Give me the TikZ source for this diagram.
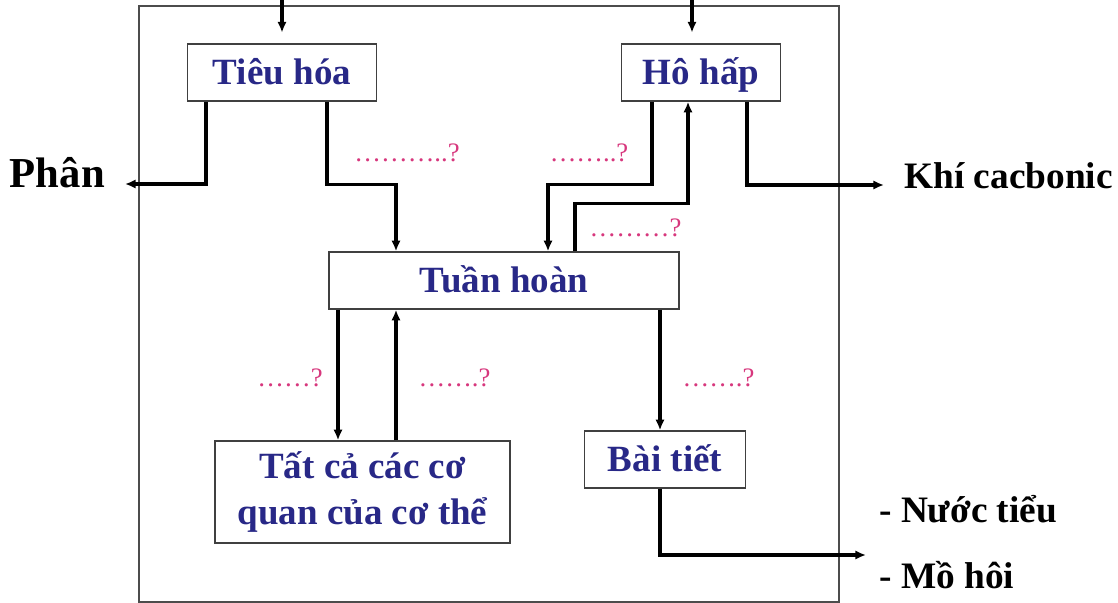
\documentclass[tikz,border=0pt]{standalone}
\usepackage{fontspec}
\setmainfont{Liberation Serif}
\usepackage{tikz}
\usetikzlibrary{arrows.meta, calc, positioning}
\definecolor{organblue}{RGB}{40,40,135}
\definecolor{askpink}{RGB}{215,55,125}

\begin{document}
\begin{tikzpicture}[x=0.75pt,y=-0.75pt,
            >={Latex[length=8pt,width=7pt]},
      flow/.style={->,line width=2.4pt,black},
      organ/.style={draw=black!75,line width=1.1pt,fill=white,text=organblue,
         font=\fontsize{27.75}{34}\selectfont\bfseries,inner sep=0pt},
      oneline/.style={text height=18.3pt,text depth=0pt},
      outside/.style={font=\fontsize{28}{34}\selectfont\bfseries,inner xsep=15pt,inner ysep=0pt},
      ask/.style={text=askpink,font=\fontsize{20}{24}\selectfont,anchor=base}]
            \useasboundingbox (0,0) rectangle (1118,603);

             % khung ngoai
             \draw [draw=black!70, line width=0.8pt] (139,6) rectangle (839,602);

             \node [organ, oneline, minimum width=141.4pt, minimum height=42.75pt] at (282,72.5) (tieuhoa) {Tiêu hóa};
             \node [organ, oneline, minimum width=119.6pt, minimum height=42.75pt] at (701,72.5) (hohap) {Hô hấp};
             \node [organ, oneline, minimum width=262.5pt, minimum height=42.75pt] at (504,280.5) (tuanhoan) {Tuần hoàn};
             \node [organ, minimum width=221.25pt, minimum height=76.5pt, align=center]
                    at (362.5,492) (coquan) {Tất cả các cơ\\quan của cơ thể};
             \node [organ, oneline, minimum width=121.1pt, minimum height=42.75pt] at (665,459.5) (baitiet) {Bài tiết};

             \node [outside, font=\fontsize{32}{38}\selectfont\bfseries, anchor=mid east] at (125,184) (phan) {Phân};
             \node [outside, anchor=mid west] at (884,185) (khi) {Khí cacbonic};
             \node [outside, inner sep=0pt, anchor=base west] at (879,522) (nuoctieu) {- Nước tiểu};
             \node [outside, inner sep=0pt, anchor=base west] at (879,588) (mohoi) {- Mồ hôi};

             \node [ask] at (407,161) (q1) {………..?};
             \node [ask] at (589,161) (q2) {……..?};
             \node [ask] at (635.5,236) (q3) {………?};
             \node [ask] at (290,386) (q4) {……?};
             \node [ask] at (454.5,386) (q5) {…….?};
             \node [ask] at (718.5,386) (q6) {…….?};

             \coordinate (foodin) at (282,0);
             \coordinate (airin) at (692,0);
             \coordinate (excr) at (866,555);

             \draw [flow, shorten >=8pt] (foodin) -- (foodin |- tieuhoa.north);
             \draw [flow, shorten >=8pt] (airin) -- (airin |- hohap.north);

             \draw [flow] ($(tieuhoa.south)+(-76,0)$) |- (phan.mid east);
             \draw [flow] ($(tieuhoa.south)+(45,0)$) -- ++(0,83) -| ($(tuanhoan.north)+(-108,0)$);
             \draw [flow] ($(hohap.south)+(-49,0)$) -- ++(0,83) -| ($(tuanhoan.north)+(44,0)$);
             \draw [flow] ($(tuanhoan.north)+(71,0)$) -- ++(0,-48) -| ($(hohap.south)+(-13,0)$);
             \draw [flow] ($(hohap.south)+(46,0)$) |- (khi.mid west);

             \draw [flow] ($(tuanhoan.south)+(-166,0)$) -- ($(coquan.north)+(-24.5,0)$);
             \draw [flow] ($(coquan.north)+(33.5,0)$) -- ($(tuanhoan.south)+(-108,0)$);
             \draw [flow] ($(tuanhoan.south)+(156,0)$) -- ($(baitiet.north)+(-5,0)$);
             \draw [flow] ($(baitiet.south)+(-5,0)$) |- (excr);
\end{tikzpicture}
\end{document}
